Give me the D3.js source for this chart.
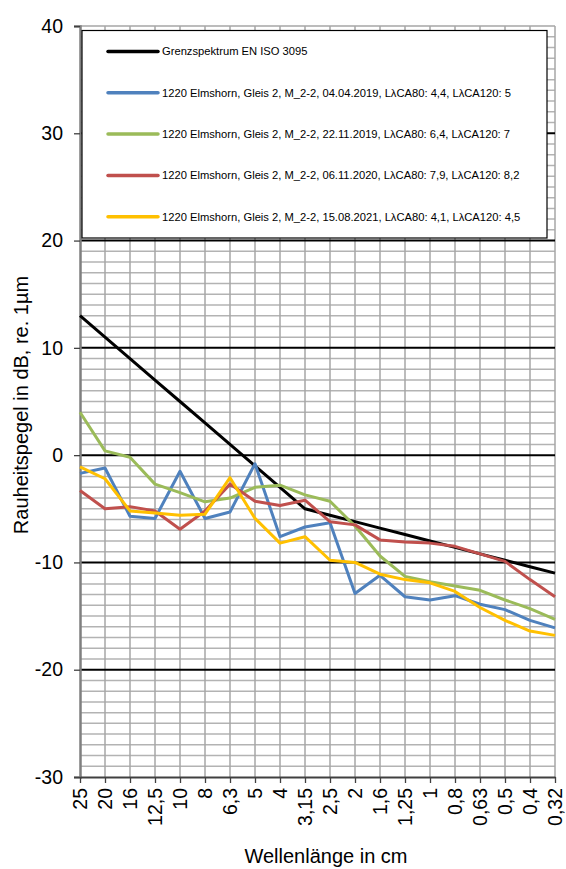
<!DOCTYPE html>
<html>
<head>
<meta charset="utf-8">
<script src="https://cdn.jsdelivr.net/npm/d3@7"></script>
<style>
  html, body { margin: 0; padding: 0; background: #fff; }
  svg { display: block; font-family: "Liberation Sans", Arial, sans-serif; }
</style>
</head>
<body>
<div id="chart"></div>
<script>
// Wavelength bands (cm), German decimal commas
var categories = ['25', '20', '16', '12,5', '10', '8', '6,3', '5', '4', '3,15',
    '2,5', '2', '1,6', '1,25', '1', '0,8', '0,63', '0,5', '0,4', '0,32'];

var limitValues = [13, 11, 9, 7, 5, 3, 1, -1, -3, -5,
    -5.6, -6.2, -6.8, -7.4, -8, -8.6, -9.2, -9.8, -10.4, -11];
var values2019a = [-1.7, -1.2, -5.7, -5.9, -1.5, -5.9, -5.3, -0.8, -7.6, -6.7,
    -6.3, -12.9, -11.2, -13.2, -13.5, -13.1, -13.9, -14.4, -15.4, -16.1];
var values2019b = [4.0, 0.4, -0.2, -2.7, -3.5, -4.35, -4.0, -3.0, -2.8, -3.7,
    -4.3, -6.6, -9.4, -11.3, -11.8, -12.2, -12.6, -13.5, -14.3, -15.3];
var values2020 = [-3.3, -5.0, -4.8, -5.2, -6.9, -5.2, -2.7, -4.3, -4.7, -4.2,
    -6.2, -6.5, -7.9, -8.1, -8.2, -8.5, -9.2, -9.9, -11.6, -13.2];
var values2021 = [-1.1, -2.2, -5.2, -5.4, -5.6, -5.5, -2.1, -5.9, -8.2, -7.6,
    -9.8, -10.0, -11.1, -11.6, -11.9, -12.7, -14.2, -15.4, -16.4, -16.8];

var seriesNames = [
    'Grenzspektrum EN ISO 3095',
    '1220 Elmshorn, Gleis 2, M_2-2, 04.04.2019, L\u03bbCA80: 4,4, L\u03bbCA120: 5',
    '1220 Elmshorn, Gleis 2, M_2-2, 22.11.2019, L\u03bbCA80: 6,4, L\u03bbCA120: 7',
    '1220 Elmshorn, Gleis 2, M_2-2, 06.11.2020, L\u03bbCA80: 7,9, L\u03bbCA120: 8,2',
    '1220 Elmshorn, Gleis 2, M_2-2, 15.08.2021, L\u03bbCA80: 4,1, L\u03bbCA120: 4,5'
];
var seriesColors = ['#000000', '#4f81bd', '#9bbb59', '#c0504d', '#ffc000'];
var yTicks = [-30, -20, -10, 0, 10, 20, 30, 40];

var W = 566, H = 869;
var LEFT = 80, RIGHT = 555, TOP = 26, BOTTOM = 777;

var series = [limitValues, values2019a, values2019b, values2020, values2021].map(function (v, i) {
    return { name: seriesNames[i], color: seriesColors[i], values: v };
});

var svg = d3.select('#chart').append('svg')
    .attr('width', W).attr('height', H);

var x = d3.scalePoint().domain(categories).range([LEFT, RIGHT]);
var y = d3.scaleLinear().domain([-30, 40]).range([BOTTOM, TOP]);

// Minor horizontal grid, every 1 dB
var minor = d3.range(-29, 41).filter(function (v) { return v % 10 !== 0; });
svg.append('g').selectAll('line').data(minor).join('line')
    .attr('x1', LEFT).attr('x2', RIGHT)
    .attr('y1', function (d) { return y(d); }).attr('y2', function (d) { return y(d); })
    .attr('stroke', '#b3b3b3').attr('stroke-width', 1.5);

// Vertical grid at every band
svg.append('g').selectAll('line').data(categories.slice(1)).join('line')
    .attr('x1', function (d) { return x(d); }).attr('x2', function (d) { return x(d); })
    .attr('y1', TOP).attr('y2', BOTTOM)
    .attr('stroke', '#a6a6a6').attr('stroke-width', 1.5);

// Top frame line (40) in grey
svg.append('line')
    .attr('x1', LEFT).attr('x2', RIGHT).attr('y1', y(40)).attr('y2', y(40))
    .attr('stroke', '#a6a6a6').attr('stroke-width', 1.5);

// Major horizontal lines every 10 dB
svg.append('g').selectAll('line').data(yTicks.filter(function (d) { return d > -30 && d < 40; })).join('line')
    .attr('x1', LEFT).attr('x2', RIGHT)
    .attr('y1', function (d) { return y(d); }).attr('y2', function (d) { return y(d); })
    .attr('stroke', '#000').attr('stroke-width', 2);

// Y axis (plain hyphen minus, as in the original)
var yAxis = svg.append('g')
    .attr('transform', 'translate(' + LEFT + ',0)')
    .call(d3.axisLeft(y).tickValues(yTicks).tickSize(6).tickPadding(11)
        .tickFormat(function (d) { return String(d); }));
yAxis.select('.domain').attr('stroke', '#7f7f7f').attr('stroke-width', 2.5);
yAxis.selectAll('.tick line').attr('stroke', '#404040').attr('stroke-width', 1.3);
yAxis.selectAll('.tick text')
    .attr('font-size', 19.5).attr('font-family', '"Liberation Sans", Arial, sans-serif')
    .attr('fill', '#000');

// X axis
var xAxis = svg.append('g')
    .attr('transform', 'translate(0,' + BOTTOM + ')')
    .call(d3.axisBottom(x).tickSize(6).tickSizeOuter(0));
xAxis.select('.domain').attr('stroke', '#404040').attr('stroke-width', 2);
xAxis.selectAll('.tick line').attr('stroke', '#404040').attr('stroke-width', 1.3);
xAxis.selectAll('.tick text')
    .attr('font-size', 19.5).attr('font-family', '"Liberation Sans", Arial, sans-serif')
    .attr('fill', '#000')
    .attr('transform', 'rotate(-90)')
    .attr('text-anchor', 'end')
    .attr('dy', '0.35em')
    .attr('x', -11).attr('y', 0);

// Series lines
var line = d3.line()
    .x(function (d, i) { return x(categories[i]); })
    .y(function (d) { return y(d); });
svg.append('g').selectAll('path').data(series).join('path')
    .attr('d', function (s) { return line(s.values); })
    .attr('fill', 'none')
    .attr('stroke', function (s) { return s.color; })
    .attr('stroke-width', 3)
    .attr('stroke-linejoin', 'round');

// Legend box
var legend = svg.append('g');
legend.append('rect')
    .attr('x', 82).attr('y', 30.5).attr('width', 465).attr('height', 207.5)
    .attr('fill', '#fff').attr('stroke', '#000').attr('stroke-width', 1.2);
var rows = legend.selectAll('g.row').data(series).join('g')
    .attr('class', 'row')
    .attr('transform', function (d, i) { return 'translate(0,' + (51.5 + i * 41.3) + ')'; });
rows.append('line')
    .attr('x1', 108).attr('x2', 158).attr('y1', 0).attr('y2', 0)
    .attr('stroke', function (d) { return d.color; }).attr('stroke-width', 3.5)
    .attr('stroke-linecap', 'round');
rows.append('text')
    .attr('x', 162).attr('y', 0).attr('dy', '0.35em')
    .attr('font-size', 11.2)
    .attr('fill', '#000')
    .text(function (d) { return d.name; });

// Axis titles
svg.append('text')
    .attr('transform', 'translate(21,405) rotate(-90)')
    .attr('text-anchor', 'middle').attr('dy', '0.35em')
    .attr('font-size', 20).attr('fill', '#000')
    .text('Rauheitspegel in dB, re. 1\u00b5m');
svg.append('text')
    .attr('x', 326).attr('y', 863)
    .attr('text-anchor', 'middle')
    .attr('font-size', 20).attr('fill', '#000')
    .text('Wellenl\u00e4nge in cm');
</script>
</body>
</html>
